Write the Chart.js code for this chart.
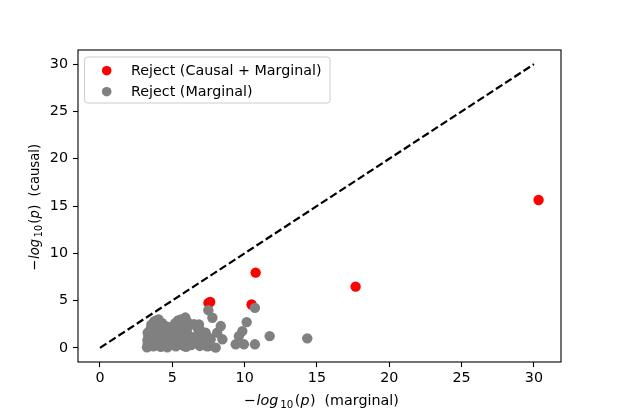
<!DOCTYPE html>
<html>
<head>
<meta charset="utf-8">
<script src="https://cdn.jsdelivr.net/npm/chart.js@4/dist/chart.umd.min.js"></script>
<style>
  body { margin: 0; background: #fff; }
  canvas { display: block; }
</style>
</head>
<body>
<canvas id="chart" width="623" height="415"></canvas>
<script>
// -log10(p) values: [marginal, causal]
const rejectBoth = [
  [30.32, 15.63], [17.67, 6.47], [10.76, 7.95], [7.5, 4.75], [7.62, 4.85], [10.48, 4.58]
];
const rejectMarginal = [
  [3.25, 0.05], [3.3, 0.4], [3.28, 0.8], [3.35, 1.2], [3.3, 1.6], [3.45, 0.2], [3.5, 2.0], [3.55, 2.45], [3.6, 1.0], [3.62, 0.6],
  [3.5, 1.4], [3.7, 0.5], [3.9, 1.2], [4.1, 0.6], [4.3, 1.5], [4.3, 0.3], [4.55, 1.0], [4.7, 2.2], [4.95, 1.0],
  [3.75, 2.8], [3.9, 2.9], [4.05, 3.0], [3.8, 2.2], [3.85, 1.5], [3.95, 0.3], [4.0, 0.9], [4.1, 1.9], [4.15, 2.5], [4.2, 0.1], [3.7, 0.15],
  [4.3, 2.6], [4.4, 1.2], [4.45, 0.5], [4.5, 2.3], [4.6, 1.8], [4.65, 0.05], [4.7, 0.8], [4.8, 1.4], [4.85, 2.0], [4.9, 0.3],
  [5.0, 1.95], [5.05, 0.6], [5.1, 1.1], [5.2, 2.6], [5.25, 0.15], [5.3, 1.6], [5.4, 2.9], [5.45, 0.9], [5.5, 2.2],
  [5.15, 0.4], [5.35, 2.3], [5.55, 1.5], [5.6, 0.8], [5.8, 1.9], [5.8, 0.2], [6.05, 2.7], [6.6, 1.1], [6.95, 1.8],
  [5.6, 3.0], [5.7, 0.4], [5.75, 1.3], [5.85, 2.7], [5.9, 3.2], [5.95, 0.1], [6.0, 1.9], [6.1, 0.8], [6.2, 2.4], [6.1, 1.35],
  [6.3, 0.3], [6.4, 1.1], [6.5, 2.5], [6.6, 0.6], [6.8, 1.45], [6.84, 2.47], [6.9, 0.2], [7.0, 1.0], [7.07, 1.24], [6.75, 2.1],
  [7.2, 0.5], [7.3, 1.6], [7.4, 0.15], [7.5, 1.1], [7.65, 0.9], [7.53, 0.19], [7.49, 3.98], [7.77, 3.18],
  [8.1, 1.6], [8.35, 2.3], [8.0, 0.02], [8.46, 0.9], [9.38, 0.37], [9.6, 1.24], [9.84, 1.77], [9.95, 0.37],
  [10.14, 2.72], [10.71, 0.37], [10.71, 4.23], [11.73, 1.24], [14.33, 1.0]
];
const diagonal = [[0, 0], [30, 30]];
const xTicks = [0, 5, 10, 15, 20, 25, 30];
const yTicks = [0, 5, 10, 15, 20, 25, 30];
const xTitle = ['\u2212', 'log', '10', '(', 'p', ')', '(marginal)'];
const yTitle = ['\u2212', 'log', '10', '(', 'p', ')', '(causal)'];

const FONT = 'DejaVu Sans';
const FS = 14.3;
const toXY = arr => arr.map(d => ({ x: d[0], y: d[1] }));

// mathtext-like label: minus, italic log, subscript 10, (, italic p, ), plain text
function drawTitle(ctx, t) {
  const reg = `${FS}px "${FONT}"`;
  const ital = `italic ${FS}px "${FONT}"`;
  const sub = `${FS * 0.72}px "${FONT}"`;
  const parts = [
    [t[0], reg, 0, 0.5], [t[1], ital, 0, 2], [t[2], sub, 3.2, 1.5],
    [t[3], reg, 0, 0], [t[4], ital, 0, 0.5], [t[5], reg, 0, 0]
  ];
  let x = 0;
  parts.forEach(([s, f, dy, gap]) => {
    ctx.font = f;
    ctx.fillText(s, x, dy);
    x += ctx.measureText(s).width + gap;
  });
  ctx.font = reg;
  ctx.fillText(t[6], 80.5, 0);
}

const decorations = {
  id: 'decorations',
  afterDraw(chart) {
    const ctx = chart.ctx;
    const a = chart.chartArea;
    ctx.save();
    // axes frame
    ctx.strokeStyle = '#000';
    ctx.lineWidth = 1.1;
    ctx.strokeRect(a.left, a.top, a.right - a.left, a.bottom - a.top);

    // axis titles
    ctx.fillStyle = '#000';
    ctx.textBaseline = 'alphabetic';
    ctx.textAlign = 'left';
    ctx.save();
    ctx.translate(244, 405);
    drawTitle(ctx, xTitle);
    ctx.restore();
    ctx.save();
    ctx.translate(39, 270.5);
    ctx.rotate(-Math.PI / 2);
    ctx.scale(0.92, 1);
    drawTitle(ctx, yTitle);
    ctx.restore();

    // legend
    const lx = 84, ly = 56.5, lw = 245.5, lh = 46;
    ctx.beginPath();
    ctx.roundRect(lx + 0.5, ly + 0.5, lw, lh, 3);
    ctx.fillStyle = 'rgba(255,255,255,0.8)';
    ctx.fill();
    ctx.strokeStyle = '#cccccc';
    ctx.lineWidth = 1;
    ctx.stroke();
    const items = chart.data.datasets.filter(d => d.inLegend);
    items.forEach((d, i) => {
      const y = 70.7 + i * 21;
      ctx.beginPath();
      ctx.arc(106.7, y, 4.8, 0, Math.PI * 2);
      ctx.fillStyle = d.backgroundColor;
      ctx.fill();
      ctx.fillStyle = '#000';
      ctx.font = `${FS}px "${FONT}"`;
      ctx.textBaseline = 'middle';
      ctx.fillText(d.label, 131, y + 0.5);
    });
    ctx.restore();
  }
};

const tickFont = { family: FONT, size: FS };

new Chart(document.getElementById('chart'), {
  type: 'scatter',
  data: {
    datasets: [
      {
        label: 'Reject (Causal + Marginal)',
        inLegend: true,
        data: toXY(rejectBoth),
        backgroundColor: '#ff0000',
        borderWidth: 0,
        pointRadius: 5.2,
        order: 2
      },
      {
        label: 'Reject (Marginal)',
        inLegend: true,
        data: toXY(rejectMarginal),
        backgroundColor: '#808080',
        borderWidth: 0,
        pointRadius: 5.2,
        order: 1
      },
      {
        label: 'diagonal',
        type: 'line',
        data: toXY(diagonal),
        borderColor: '#000',
        borderWidth: 2.2,
        borderDash: [7.7, 3.3],
        pointRadius: 0,
        fill: false,
        order: 3
      }
    ]
  },
  options: {
    responsive: false,
    animation: false,
    layout: { padding: { left: 0, top: 50, right: 62, bottom: 0 } },
    plugins: { legend: { display: false }, tooltip: { enabled: false } },
    scales: {
      x: {
        type: 'linear',
        min: -1.52,
        max: 31.87,
        afterFit: s => { s.height = 53; },
        afterBuildTicks: s => { s.ticks = xTicks.map(v => ({ value: v })); },
        grid: { drawOnChartArea: false, tickLength: 5, tickColor: '#000', tickWidth: 1.1 },
        border: { display: false },
        ticks: { color: '#000', font: tickFont, padding: 3, maxRotation: 0 }
      },
      y: {
        type: 'linear',
        min: -1.5,
        max: 31.5,
        afterFit: s => { s.width = 78; },
        afterBuildTicks: s => { s.ticks = yTicks.map(v => ({ value: v })); },
        grid: { drawOnChartArea: false, tickLength: 5, tickColor: '#000', tickWidth: 1.1 },
        border: { display: false },
        ticks: { color: '#000', font: tickFont, padding: 5 }
      }
    }
  },
  plugins: [decorations]
});
</script>
</body>
</html>
